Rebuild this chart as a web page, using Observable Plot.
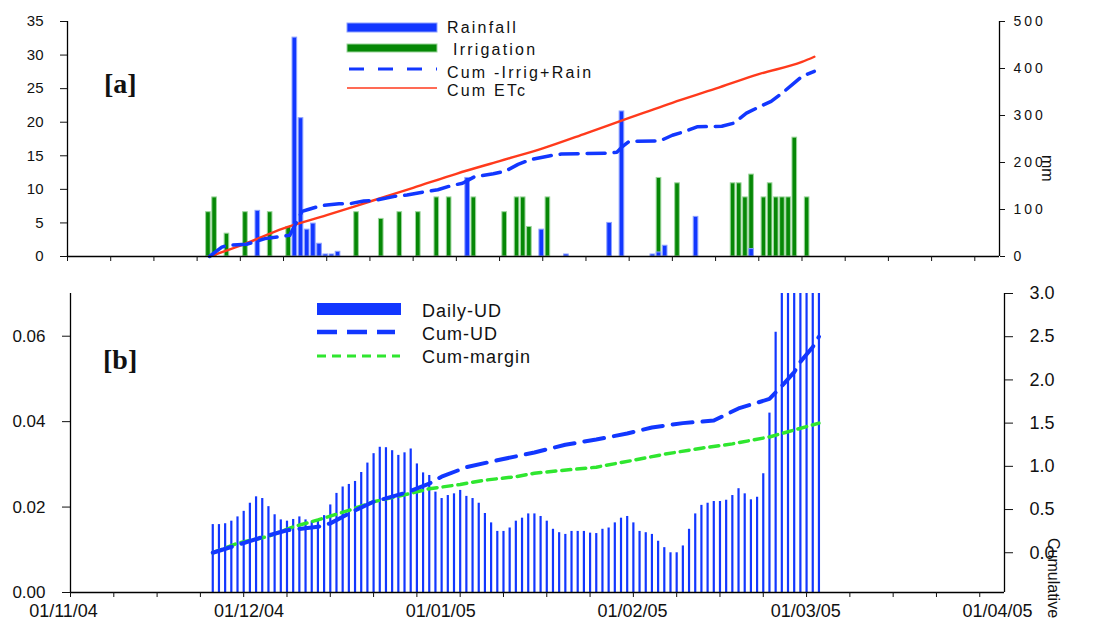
<!DOCTYPE html>
<html><head><meta charset="utf-8">
<script src="https://cdn.jsdelivr.net/npm/d3@7"></script>
<script src="https://cdn.jsdelivr.net/npm/@observablehq/plot@0.6"></script>
<style>
html,body{margin:0;padding:0;background:#fff;}
#wrap{position:relative;width:1096px;height:621px;overflow:hidden;font-family:"Liberation Sans",Arial,sans-serif;background:#fff;}
#top,#bot{position:absolute;left:0;}
#top{top:0;} #bot{top:268px;}
#ov{position:absolute;left:0;top:0;pointer-events:none;}
</style></head><body>
<div id="wrap"><div id="top"></div><div id="bot"></div><svg id="ov" width="1096" height="621"></svg></div>
<script>
// ---------- axis / tick values ----------
const xStart = "2004-11-01", xEnd = "2005-04-01";
const monthLabels = ["2004-11-01","2004-12-01","2005-01-01","2005-02-01","2005-03-01","2005-04-01"];
const leftTicksA = [0,5,10,15,20,25,30,35];
const rightTicksA = [0,100,200,300,400,500];
const leftTicksB = [0,0.02,0.04,0.06];
const rightTicksB = [0,0.5,1,1.5,2,2.5,3];

// ---------- panel [a] data ----------
const rainDates = ["2004-12-02","2004-12-08","2004-12-09","2004-12-10","2004-12-11","2004-12-12","2004-12-13","2004-12-14","2004-12-15","2005-01-05","2005-01-17","2005-01-21","2005-01-28","2005-01-30","2005-02-04","2005-02-05","2005-02-06","2005-02-11","2005-02-20"];
const rainValues = [6.8,32.6,20.6,4.0,4.9,1.9,0.3,0.3,0.7,11.7,4.0,0.3,5.0,21.6,0.3,0.6,1.6,5.9,1.1];

const irrigDates = ["2004-11-24","2004-11-25","2004-11-27","2004-11-30","2004-12-04","2004-12-07","2004-12-18","2004-12-22","2004-12-25","2004-12-28","2004-12-31","2005-01-02","2005-01-06","2005-01-11","2005-01-13","2005-01-14","2005-01-15","2005-01-18","2005-02-05","2005-02-08","2005-02-17","2005-02-18","2005-02-19","2005-02-20","2005-02-22","2005-02-23","2005-02-24","2005-02-25","2005-02-26","2005-02-27","2005-03-01"];
const irrigValues = [6.6,8.8,3.4,6.6,6.6,4.4,6.6,5.6,6.6,6.6,8.8,8.8,8.8,6.6,8.8,8.8,4.4,8.8,11.7,10.9,10.9,10.9,8.8,12.2,8.8,10.9,8.8,8.8,8.8,17.7,8.8];

const cumIRDates = ["2004-11-24","2004-11-26","2004-11-27","2004-11-30","2004-12-03","2004-12-07","2004-12-09","2004-12-10","2004-12-12","2004-12-15","2004-12-17","2004-12-19","2004-12-21","2004-12-24","2004-12-26","2004-12-29","2004-12-31","2005-01-02","2005-01-04","2005-01-06","2005-01-09","2005-01-11","2005-01-13","2005-01-15","2005-01-18","2005-01-20","2005-01-28","2005-01-29","2005-01-30","2005-01-31","2005-02-05","2005-02-07","2005-02-09","2005-02-11","2005-02-15","2005-02-17","2005-02-19","2005-02-21","2005-02-23","2005-02-25","2005-02-27","2005-02-28","2005-03-02"];
const cumIRValues = [0,20,24,26,38,45,96,100,108,112,113,118,120,128,131,138,142,150,156,170,176,182,196,206,214,218,220,222,235,245,246,258,266,276,277,284,305,318,330,350,372,383,394];

const etcDates = ["2004-11-24","2004-11-29","2004-12-06","2004-12-13","2004-12-20","2004-12-27","2005-01-03","2005-01-10","2005-01-17","2005-01-24","2005-01-31","2005-02-07","2005-02-14","2005-02-21","2005-02-28","2005-03-02"];
const etcValues = [0,23,60,88,117,146,176,203,230,262,295,327,357,388,414,425];

// ---------- panel [b] data ----------
const udStart = "2004-11-24";
const udValues = [0.0159,0.0159,0.0161,0.0167,0.0177,0.0190,0.0209,0.0224,0.0220,0.0201,
 0.0182,0.0170,0.0167,0.0171,0.0177,0.0170,0.0167,0.0167,0.0180,0.0205,
 0.0232,0.0247,0.0253,0.0260,0.0281,0.0303,0.0325,0.0340,0.0339,0.0332,
 0.0321,0.0327,0.0336,0.0301,0.0280,0.0274,0.0235,0.0220,0.0227,0.0231,
 0.0239,0.0225,0.0220,0.0209,0.0185,0.0163,0.0143,0.0143,0.0151,0.0167,
 0.0174,0.0184,0.0184,0.0178,0.0167,0.0148,0.0140,0.0136,0.0143,0.0143,
 0.0143,0.0139,0.0138,0.0148,0.0151,0.0163,0.0174,0.0178,0.0163,0.0143,
 0.0140,0.0136,0.0120,0.0105,0.0093,0.0093,0.0109,0.0148,0.0184,0.0204,
 0.0209,0.0213,0.0213,0.0216,0.0227,0.0243,0.0231,0.0217,0.0223,0.0278,
 0.0420,0.0609,0.085,0.090,0.100,0.095,0.110,0.100,0.120];

const cumUDDates = ["2004-11-24","2004-11-28","2004-12-02","2004-12-06","2004-12-11","2004-12-13","2004-12-17","2004-12-20","2004-12-25","2004-12-29","2004-12-31","2005-01-04","2005-01-09","2005-01-15","2005-01-20","2005-01-25","2005-01-30","2005-02-03","2005-02-08","2005-02-13","2005-02-17","2005-02-22","2005-02-24","2005-02-26","2005-02-27","2005-03-01","2005-03-02"];
const cumUDValues = [0.0,0.09,0.18,0.26,0.30,0.34,0.49,0.59,0.69,0.80,0.88,0.99,1.07,1.16,1.25,1.31,1.38,1.45,1.50,1.53,1.67,1.78,1.93,2.09,2.21,2.38,2.50];

const cumMarginDates = ["2004-11-24","2004-11-28","2004-12-03","2004-12-07","2004-12-11","2004-12-16","2004-12-20","2004-12-25","2004-12-29","2005-01-03","2005-01-07","2005-01-12","2005-01-15","2005-01-19","2005-01-25","2005-01-31","2005-02-05","2005-02-11","2005-02-16","2005-02-22","2005-02-26","2005-03-02"];
const cumMarginValues = [0.0,0.11,0.19,0.30,0.38,0.49,0.59,0.67,0.74,0.79,0.84,0.88,0.92,0.95,0.99,1.07,1.14,1.21,1.26,1.34,1.42,1.50];

// ---------- colours ----------
const BLUE = "#1237ff", BLUE_L = "#8ea2ff", GREEN = "#068806", GREEN_L = "#9cd69c", RED = "#ff3a1c", LIME = "#2fe62f";

// ---------- build ----------
const parse = s => new Date(s + "T00:00:00Z");
const X0 = parse(xStart), X1 = parse(xEnd);
const weekTicks = d3.utcMonday.range(X0, X1);
const months = monthLabels.map(parse);
const zip = (ds, vs) => ds.map((d, i) => ({date: parse(d), v: vs[i]}));

const rain = zip(rainDates, rainValues);
const irrig = zip(irrigDates, irrigValues);
const cumIR = zip(cumIRDates, cumIRValues);
const etc = zip(etcDates, etcValues);
const ud = udValues.map((v, i) => ({date: d3.utcDay.offset(parse(udStart), i), v}));
const cumUD = zip(cumUDDates, cumUDValues);
const cumMargin = zip(cumMarginDates, cumMarginValues);

// dual axis mappings
const toA = v => v * 35 / 500;
const B_MIN = -0.46, B_MAX = 3.0, L_MAX = 0.07;
const toB = r => (r - B_MIN) / (B_MAX - B_MIN) * L_MAX;
const mapA = new Map(rightTicksA.map(t => [toA(t), String(t)]));
const mapB = new Map(rightTicksB.map(t => [toB(t), t.toFixed(1)]));

const bx1 = d => d3.utcHour.offset(d.date, -13);
const bx2 = d => d3.utcHour.offset(d.date, 5);
const FONT = "'Liberation Sans', Arial, sans-serif";

const topPlot = Plot.plot({
  width: 1096, height: 268, marginLeft: 67, marginRight: 97, marginTop: 21, marginBottom: 12,
  x: {type: "utc", domain: [X0, X1]},
  y: {domain: [0, 35]},
  style: {fontFamily: FONT, fontSize: "15px", color: "#111", background: "transparent", overflow: "visible"},
  marks: [
    Plot.rectY(irrig, {x1: bx1, x2: bx2, y1: 0, y2: "v", fill: GREEN, stroke: GREEN_L, strokeWidth: 1}),
    Plot.rectY(rain, {x1: bx1, x2: bx2, y1: 0, y2: "v", fill: BLUE, stroke: BLUE_L, strokeWidth: 1}),
    Plot.line(etc, {x: "date", y: d => toA(d.v), stroke: RED, strokeWidth: 2.4, curve: "monotone-x"}),
    Plot.line(cumIR, {x: "date", y: d => toA(d.v), stroke: BLUE, strokeWidth: 3.5, strokeDasharray: "18,9"}),
    Plot.ruleX([X0, X1], {stroke: "#000", strokeWidth: 1.3}),
    Plot.ruleY([0], {stroke: "#000", strokeWidth: 1.3}),
    Plot.axisY(leftTicksA, {anchor: "left", tickSize: 7, tickPadding: 17, fontSize: 15, label: null}),
    Plot.axisY(rightTicksA.map(toA), {anchor: "right", tickSize: 5, tickPadding: 9, fontSize: 14, label: null, tickFormat: d => mapA.get(d) ?? ""}),
    Plot.axisX(weekTicks, {anchor: "bottom", tickSize: 5, tickFormat: () => "", label: null})
  ]
});
d3.select(topPlot).selectAll('g[aria-label="y-axis tick label"]').filter((d, i) => i === 1).attr("letter-spacing", "3");
document.getElementById("top").appendChild(topPlot);

const botPlot = Plot.plot({
  width: 1096, height: 353, marginLeft: 70, marginRight: 92, marginTop: 25, marginBottom: 29,
  x: {type: "utc", domain: [X0, X1]},
  y: {domain: [0, L_MAX]},
  style: {fontFamily: FONT, fontSize: "17px", color: "#111", background: "transparent", overflow: "visible"},
  marks: [
    Plot.ruleX(ud, {x: "date", y1: 0, y2: "v", stroke: BLUE, strokeWidth: 2.2, clip: true}),
    Plot.line(cumMargin, {x: "date", y: d => toB(d.v), stroke: LIME, strokeWidth: 3.5, strokeDasharray: "9,6"}),
    Plot.line(cumUD, {x: "date", y: d => toB(d.v), stroke: BLUE, strokeWidth: 4, strokeDasharray: "20,10"}),
    Plot.ruleX([X0, X1], {stroke: "#000", strokeWidth: 1.3}),
    Plot.ruleY([0], {stroke: "#000", strokeWidth: 1.3}),
    Plot.axisY(leftTicksB, {anchor: "left", tickSize: 8, tickPadding: 17, fontSize: 17, label: null, tickFormat: d3.format(".2f")}),
    Plot.axisY(rightTicksB.map(toB), {anchor: "right", tickSize: 8, tickPadding: 17, fontSize: 18, label: null, tickFormat: d => mapB.get(d) ?? ""}),
    Plot.axisX(weekTicks, {anchor: "bottom", tickSize: 5, tickFormat: () => "", label: null}),
    Plot.axisX(months, {anchor: "bottom", tickSize: 0, tickPadding: 12, dx: -7, fontSize: 18, label: null, tickFormat: d3.utcFormat("%d/%m/%y")})
  ]
});
document.getElementById("bot").appendChild(botPlot);

// ---------- overlay: legends, panel tags, axis titles ----------
const ov = d3.select("#ov");
const T = "'Liberation Sans', Arial, sans-serif";
// legend [a]
ov.append("rect").attr("x", 347).attr("y", 23).attr("width", 90).attr("height", 9).attr("fill", BLUE).attr("stroke", BLUE_L);
ov.append("rect").attr("x", 347).attr("y", 44).attr("width", 90).attr("height", 8).attr("fill", GREEN).attr("stroke", GREEN_L);
ov.append("line").attr("x1", 349).attr("x2", 437).attr("y1", 69).attr("y2", 69).attr("stroke", BLUE).attr("stroke-width", 3).attr("stroke-dasharray", "15,14");
ov.append("line").attr("x1", 347).attr("x2", 437).attr("y1", 88).attr("y2", 88).attr("stroke", RED).attr("stroke-width", 1.5);
const legA = [["Rainfall", 447, 33], ["Irrigation", 453, 55], ["Cum -Irrig+Rain", 447, 77.5], ["Cum ETc", 447, 95.5]];
legA.forEach(([t, x, y]) => ov.append("text").attr("x", x).attr("y", y).attr("font-family", T).attr("font-size", 16).attr("letter-spacing", 2.2).attr("fill", "#111").text(t));
// legend [b]
ov.append("rect").attr("x", 317).attr("y", 303).attr("width", 84).attr("height", 12).attr("fill", BLUE);
ov.append("line").attr("x1", 317).attr("x2", 395).attr("y1", 332).attr("y2", 332).attr("stroke", BLUE).attr("stroke-width", 4.5).attr("stroke-dasharray", "20,10");
ov.append("line").attr("x1", 317).attr("x2", 400).attr("y1", 356).attr("y2", 356).attr("stroke", LIME).attr("stroke-width", 3).attr("stroke-dasharray", "9,6");
const legB = [["Daily-UD", 316.5], ["Cum-UD", 339.5], ["Cum-margin", 362.5]];
legB.forEach(([t, y]) => ov.append("text").attr("x", 422).attr("y", y).attr("font-family", T).attr("font-size", 18).attr("letter-spacing", 1).attr("fill", "#111").text(t));
// panel tags
ov.append("text").attr("x", 104).attr("y", 93).attr("font-family", "'Liberation Serif', 'Times New Roman', serif").attr("font-weight", "bold").attr("font-size", 28).attr("fill", "#111").text("[a]");
ov.append("text").attr("x", 103).attr("y", 369).attr("font-family", "'Liberation Serif', 'Times New Roman', serif").attr("font-weight", "bold").attr("font-size", 28).attr("fill", "#111").text("[b]");
// rotated axis titles
ov.append("text").attr("transform", "translate(1048,155) rotate(90)").attr("dy", "0.35em").attr("font-family", T).attr("font-size", 16).attr("fill", "#111").text("mm");
ov.append("text").attr("transform", "translate(1054,538) rotate(90)").attr("dy", "0.35em").attr("font-family", T).attr("font-size", 16).attr("fill", "#111").text("Cumulative");
</script>
</body></html>
